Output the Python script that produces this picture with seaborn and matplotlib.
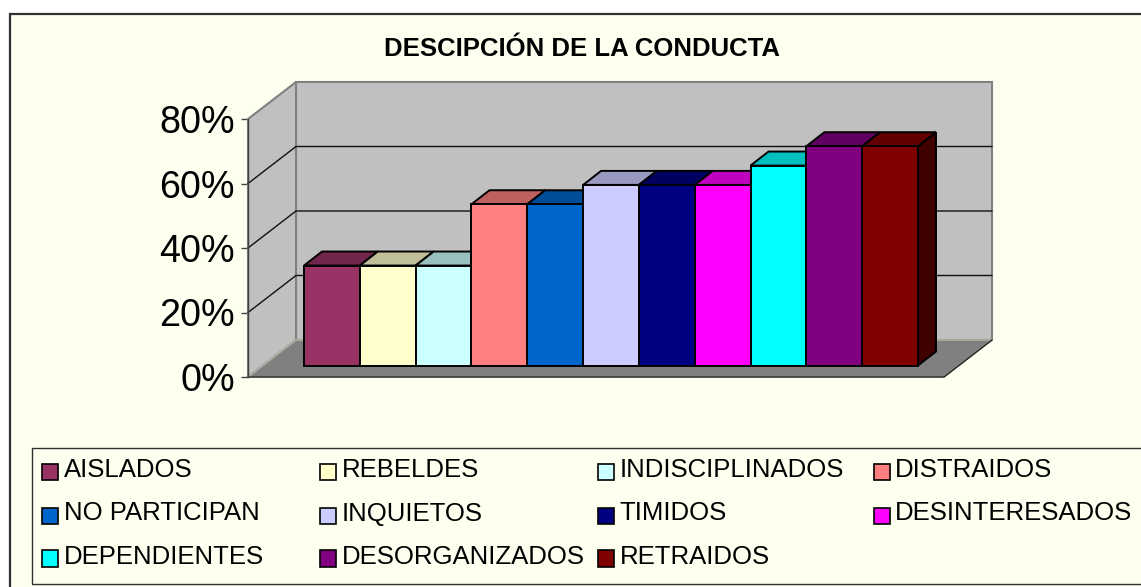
import matplotlib
matplotlib.use("Agg")
import matplotlib.pyplot as plt
import seaborn as sns
from matplotlib.colors import to_rgb
from matplotlib.patches import Polygon, Rectangle

title = "DESCIPCIÓN DE LA CONDUCTA"
categories = ["AISLADOS", "REBELDES", "INDISCIPLINADOS", "DISTRAIDOS",
              "NO PARTICIPAN", "INQUIETOS", "TIMIDOS", "DESINTERESADOS",
              "DEPENDIENTES", "DESORGANIZADOS", "RETRAIDOS"]
values = [31, 31, 31, 50, 50, 56, 56, 56, 62, 68, 68]
colors = ["#993366", "#FFFFCC", "#CCFFFF", "#FF8080", "#0066CC", "#CCCCFF",
          "#000080", "#FF00FF", "#00FFFF", "#800080", "#800000"]
y_ticks = [0, 20, 40, 60, 80]
y_labels = ["0%", "20%", "40%", "60%", "80%"]

W, H = 1141, 587
PANEL = "#FFFFF0"


def box(left, top, right, bottom):
    # pixel box (from top left) to figure fractions
    return [left / W, 1 - bottom / H, (right - left) / W, (bottom - top) / H]


def shade(color, k):
    return tuple(c * k for c in to_rgb(color))


sns.set_theme(style="white")
plt.rcParams["font.family"] = ["Liberation Sans", "DejaVu Sans"]

fig = plt.figure(figsize=(W / 100, H / 100), dpi=100, facecolor="white")

# panel, title and legend live in plain pixel coordinates
ax_bg = fig.add_axes([0, 0, 1, 1], zorder=0)
ax_bg.set_xlim(0, W)
ax_bg.set_ylim(H, 0)
ax_bg.axis("off")
ax_bg.add_patch(Rectangle((10, 13.5), W, H, facecolor=PANEL, edgecolor="#303030", lw=1.6))
ax_bg.text(582.5, 48.5, title, ha="center", va="center", fontsize=18.5,
           fontweight="bold", color="black")

ax_bg.add_patch(Rectangle((32, 447.5), W, 136, facecolor=PANEL, edgecolor="#303030", lw=1))
legend_x = [41.5, 319.5, 597.5, 873.5]
legend_text_x = [63.5, 342, 619.5, 895]
legend_top = [463.5, 507.5, 550]
legend_base = [477, 520.5, 563.5]
for i, (label, color) in enumerate(zip(categories, colors)):
    row, col = divmod(i, 4)
    ax_bg.add_patch(Rectangle((legend_x[col], legend_top[row]), 16.5, 16.5, facecolor=color,
                              edgecolor="black", lw=1.2))
    ax_bg.text(legend_text_x[col], legend_base[row], label, ha="left", va="baseline",
               fontsize=18.5, color="black")

# front plane of the 3D box, holds the value axis
ax_frame = fig.add_axes(box(248, 119, 944, 377), zorder=1)
ax_frame.patch.set_alpha(0)
ax_frame.set_xlim(0, 1)
ax_frame.set_ylim(0, 80)
dx = 48 / 696
dy = 37 / (258 / 80)

ax_frame.add_patch(Rectangle((dx, dy), 1, 80, facecolor="#C0C0C0", edgecolor="#808080",
                             lw=1.5, clip_on=False, zorder=1))
ax_frame.add_patch(Polygon([(0, 0), (dx, dy), (dx, 80 + dy), (0, 80)], facecolor="#C0C0C0",
                           edgecolor="#808080", lw=1.5, clip_on=False, zorder=1))
ax_frame.add_patch(Polygon([(0, 0), (1, 0), (1 + dx, dy), (dx, dy)], facecolor="#808080",
                           edgecolor="#B8B8A8", lw=1, clip_on=False, zorder=1))
for t in y_ticks[1:-1]:
    ax_frame.plot([0, dx, 1 + dx], [t, t + dy, t + dy], color="#101010", lw=1,
                  clip_on=False, zorder=2)
ax_frame.plot([0, 1, 1 + dx], [0, 0, dy], color="#202020", lw=1, clip_on=False, zorder=2)

sns.despine(ax=ax_frame, top=True, right=True, bottom=True, left=False)
ax_frame.spines["left"].set_color("#404040")
ax_frame.spines["left"].set_linewidth(1)
ax_frame.set_xticks([])
ax_frame.set_yticks(y_ticks)
ax_frame.set_yticklabels(y_labels)
ax_frame.tick_params(axis="y", left=True, length=5, width=1, color="#404040", pad=4.5,
                     labelsize=27.2, labelcolor="black")

# bars stand a little way into the box
ax = fig.add_axes(box(304, 107.5, 918, 365.5), zorder=2)
ax.patch.set_alpha(0)
sns.barplot(x=categories, y=values, hue=categories, palette=colors, saturation=1,
            width=1, edgecolor="black", linewidth=1.4, legend=False, ax=ax)
ax.set_xlim(-0.5, 10.5)
ax.set_ylim(0, 80)
ax.axis("off")

bx = 18 / (614 / 11)
by = 14 / (258 / 80)
for bar, color in zip(ax.patches, colors):
    x0 = bar.get_x()
    x1 = x0 + bar.get_width()
    h = bar.get_height()
    bar.set_zorder(5)
    bar.set_clip_on(False)
    ax.add_patch(Polygon([(x1, 0), (x1 + bx, by), (x1 + bx, h + by), (x1, h)],
                         facecolor=shade(color, 0.5), edgecolor="black", lw=1.4,
                         clip_on=False, zorder=3))
    ax.add_patch(Polygon([(x0, h), (x0 + bx, h + by), (x1 + bx, h + by), (x1, h)],
                         facecolor=shade(color, 0.75), edgecolor="black", lw=1.4,
                         clip_on=False, zorder=4))

fig.savefig("out.png", dpi=100, facecolor="white")
plt.close(fig)
